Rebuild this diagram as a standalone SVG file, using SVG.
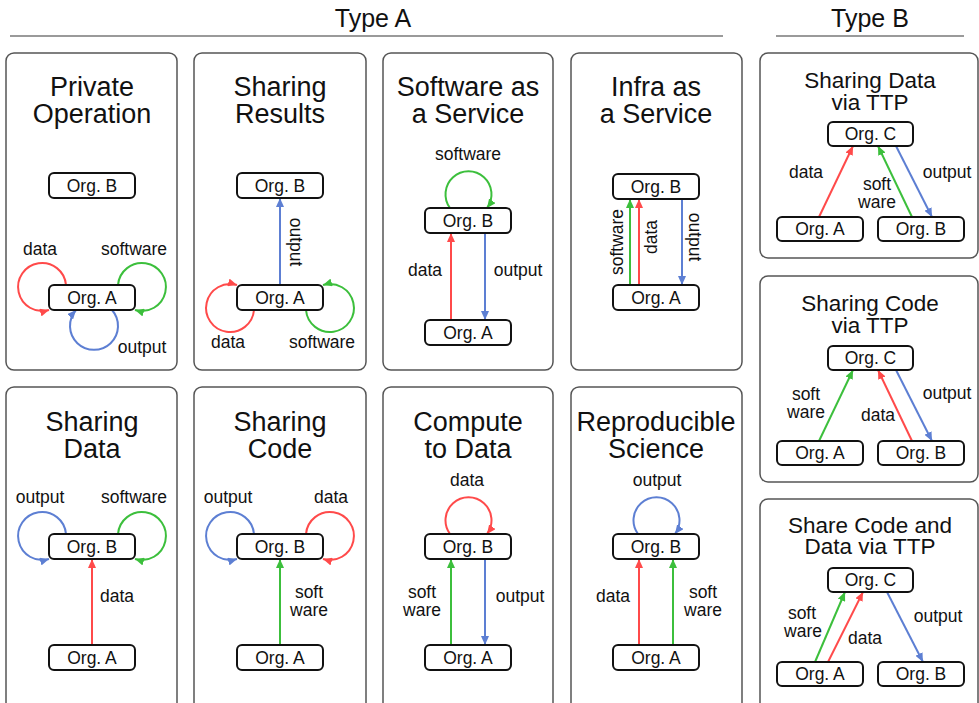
<svg xmlns="http://www.w3.org/2000/svg" width="979" height="703" viewBox="0 0 979 703">
  <style>
    text { font-family: "Liberation Sans", Arial, sans-serif; fill: #111; }
    .hdr { font-size: 25px; text-anchor: middle; }
    .rule { stroke: #9a9a9a; stroke-width: 2; }
    .panel { fill: #fff; stroke: #555; stroke-width: 1.5; }
    .ttl { font-size: 27px; text-anchor: middle; }
    .ttlb { font-size: 22.5px; text-anchor: middle; }
    .node rect { fill: #fff; stroke: #111; stroke-width: 2; }
    .node text { font-size: 17.5px; text-anchor: middle; }
    .lbl { font-size: 17.5px; text-anchor: middle; }
    .c { fill: none; stroke-width: 2; }
    .red { stroke: #ff4a4a; marker-end: url(#ah-red); }
    .grn { stroke: #3cbf3c; marker-end: url(#ah-grn); }
    .blu { stroke: #5d7fd3; marker-end: url(#ah-blu); }
  </style>
  <defs>
    <marker id="ah-red" viewBox="0 0 9 8" refX="9" refY="4" markerWidth="9" markerHeight="8" markerUnits="userSpaceOnUse" orient="auto">
      <path d="M0,0 L9,4 L0,8 z" fill="#ff4a4a"/>
    </marker>
    <marker id="ah-grn" viewBox="0 0 9 8" refX="9" refY="4" markerWidth="9" markerHeight="8" markerUnits="userSpaceOnUse" orient="auto">
      <path d="M0,0 L9,4 L0,8 z" fill="#3cbf3c"/>
    </marker>
    <marker id="ah-blu" viewBox="0 0 9 8" refX="9" refY="4" markerWidth="9" markerHeight="8" markerUnits="userSpaceOnUse" orient="auto">
      <path d="M0,0 L9,4 L0,8 z" fill="#5d7fd3"/>
    </marker>
  </defs>

  <!-- section headers -->
  <g id="headers">
    <text class="hdr" x="373" y="27">Type A</text>
    <line class="rule" x1="10" y1="36" x2="723" y2="36"/>
    <text class="hdr" x="870" y="27">Type B</text>
    <line class="rule" x1="776" y1="36" x2="964" y2="36"/>
  </g>

  <!-- scenario panels with titles -->
  <g id="panels">
    <rect class="panel" x="6" y="53" width="171" height="317" rx="8"/>
    <rect class="panel" x="194" y="53" width="172" height="317" rx="8"/>
    <rect class="panel" x="383" y="53" width="170" height="317" rx="8"/>
    <rect class="panel" x="571" y="53" width="171" height="317" rx="8"/>
    <rect class="panel" x="6" y="387" width="171" height="330" rx="8"/>
    <rect class="panel" x="194" y="387" width="172" height="330" rx="8"/>
    <rect class="panel" x="383" y="387" width="170" height="330" rx="8"/>
    <rect class="panel" x="571" y="387" width="171" height="330" rx="8"/>
    <rect class="panel" x="760" y="53" width="218" height="205" rx="8"/>
    <rect class="panel" x="760" y="276" width="218" height="206" rx="8"/>
    <rect class="panel" x="760" y="499" width="218" height="220" rx="8"/>

    <text class="ttl" x="92" y="96">Private</text>
    <text class="ttl" x="92" y="123">Operation</text>
    <text class="ttl" x="280" y="96">Sharing</text>
    <text class="ttl" x="280" y="123">Results</text>
    <text class="ttl" x="468" y="96">Software as</text>
    <text class="ttl" x="468" y="123">a Service</text>
    <text class="ttl" x="656" y="96">Infra as</text>
    <text class="ttl" x="656" y="123">a Service</text>
    <text class="ttl" x="92" y="431">Sharing</text>
    <text class="ttl" x="92" y="458">Data</text>
    <text class="ttl" x="280" y="431">Sharing</text>
    <text class="ttl" x="280" y="458">Code</text>
    <text class="ttl" x="468" y="431">Compute</text>
    <text class="ttl" x="468" y="458">to Data</text>
    <text class="ttl" x="656" y="431">Reproducible</text>
    <text class="ttl" x="656" y="458">Science</text>
    <text class="ttlb" x="870" y="88">Sharing Data</text>
    <text class="ttlb" x="870" y="110">via TTP</text>
    <text class="ttlb" x="870" y="311">Sharing Code</text>
    <text class="ttlb" x="870" y="333">via TTP</text>
    <text class="ttlb" x="870" y="533">Share Code and</text>
    <text class="ttlb" x="870" y="554">Data via TTP</text>
  </g>

  <!-- connectors: straight transfers and self-loops -->
  <g id="connectors">
    <!-- Private Operation -->
    <path class="c red" d="M66,285 A24,24 0 1 0 49,310"/>
    <path class="c grn" d="M118,285 A24,24 0 1 1 135,310"/>
    <path class="c blu" d="M112,310 A24,24 0 1 1 76,310"/>
    <!-- Sharing Results -->
    <path class="c blu" d="M280,285 L280,198"/>
    <path class="c red" d="M254,310 A24,24 0 1 1 237,285"/>
    <path class="c grn" d="M306,310 A24,24 0 1 0 323,285"/>
    <!-- Software as a Service -->
    <path class="c grn" d="M450,208 A23,23 0 1 1 487,208"/>
    <path class="c red" d="M451,320 L451,233"/>
    <path class="c blu" d="M485,233 L485,320"/>
    <!-- Infra as a Service -->
    <path class="c grn" d="M630,285 L630,199"/>
    <path class="c red" d="M639,285 L639,199"/>
    <path class="c blu" d="M682,199 L682,285"/>
    <!-- Sharing Data -->
    <path class="c blu" d="M66,534 A24,24 0 1 0 49,559"/>
    <path class="c grn" d="M118,534 A24,24 0 1 1 135,559"/>
    <path class="c red" d="M92,645 L92,559"/>
    <!-- Sharing Code -->
    <path class="c blu" d="M254,534 A24,24 0 1 0 237,559"/>
    <path class="c red" d="M306,534 A24,24 0 1 1 323,559"/>
    <path class="c grn" d="M280,645 L280,559"/>
    <!-- Compute to Data -->
    <path class="c red" d="M450,534 A23,23 0 1 1 487,534"/>
    <path class="c grn" d="M451,645 L451,559"/>
    <path class="c blu" d="M485,559 L485,645"/>
    <!-- Reproducible Science -->
    <path class="c blu" d="M638,534 A23,23 0 1 1 675,534"/>
    <path class="c red" d="M639,645 L639,559"/>
    <path class="c grn" d="M673,645 L673,559"/>
    <!-- Sharing Data via TTP -->
    <path class="c red" d="M819,217 L853,146"/>
    <path class="c grn" d="M912,217 L878,146"/>
    <path class="c blu" d="M896,146 L932,217"/>
    <!-- Sharing Code via TTP -->
    <path class="c grn" d="M819,441 L853,370"/>
    <path class="c red" d="M912,441 L878,370"/>
    <path class="c blu" d="M896,370 L932,441"/>
    <!-- Share Code and Data via TTP -->
    <path class="c grn" d="M815,662 L845,592"/>
    <path class="c red" d="M828,662 L863,592"/>
    <path class="c blu" d="M887,592 L923,662"/>
  </g>

  <!-- organisation nodes -->
  <g id="p1-orgB" class="node"><rect x="49" y="173" width="86" height="25" rx="5"/><text x="92" y="192">Org. B</text></g>
  <g id="p1-orgA" class="node"><rect x="49" y="285" width="86" height="25" rx="5"/><text x="92" y="304">Org. A</text></g>
  <g id="p2-orgB" class="node"><rect x="237" y="173" width="86" height="25" rx="5"/><text x="280" y="192">Org. B</text></g>
  <g id="p2-orgA" class="node"><rect x="237" y="285" width="86" height="25" rx="5"/><text x="280" y="304">Org. A</text></g>
  <g id="p3-orgB" class="node"><rect x="425" y="208" width="86" height="25" rx="5"/><text x="468" y="227">Org. B</text></g>
  <g id="p3-orgA" class="node"><rect x="425" y="320" width="86" height="25" rx="5"/><text x="468" y="339">Org. A</text></g>
  <g id="p4-orgB" class="node"><rect x="613" y="174" width="86" height="25" rx="5"/><text x="656" y="193">Org. B</text></g>
  <g id="p4-orgA" class="node"><rect x="613" y="285" width="86" height="25" rx="5"/><text x="656" y="304">Org. A</text></g>
  <g id="p5-orgB" class="node"><rect x="49" y="534" width="86" height="25" rx="5"/><text x="92" y="553">Org. B</text></g>
  <g id="p5-orgA" class="node"><rect x="49" y="645" width="86" height="25" rx="5"/><text x="92" y="664">Org. A</text></g>
  <g id="p6-orgB" class="node"><rect x="237" y="534" width="86" height="25" rx="5"/><text x="280" y="553">Org. B</text></g>
  <g id="p6-orgA" class="node"><rect x="237" y="645" width="86" height="25" rx="5"/><text x="280" y="664">Org. A</text></g>
  <g id="p7-orgB" class="node"><rect x="425" y="534" width="86" height="25" rx="5"/><text x="468" y="553">Org. B</text></g>
  <g id="p7-orgA" class="node"><rect x="425" y="645" width="86" height="25" rx="5"/><text x="468" y="664">Org. A</text></g>
  <g id="p8-orgB" class="node"><rect x="613" y="534" width="86" height="25" rx="5"/><text x="656" y="553">Org. B</text></g>
  <g id="p8-orgA" class="node"><rect x="613" y="645" width="86" height="25" rx="5"/><text x="656" y="664">Org. A</text></g>
  <g id="b1-orgC" class="node"><rect x="828" y="122" width="85" height="24" rx="5"/><text x="870.5" y="140">Org. C</text></g>
  <g id="b1-orgA" class="node"><rect x="777" y="217" width="86" height="24" rx="5"/><text x="820" y="235">Org. A</text></g>
  <g id="b1-orgB" class="node"><rect x="878" y="217" width="86" height="24" rx="5"/><text x="921" y="235">Org. B</text></g>
  <g id="b2-orgC" class="node"><rect x="828" y="346" width="85" height="24" rx="5"/><text x="870.5" y="364">Org. C</text></g>
  <g id="b2-orgA" class="node"><rect x="777" y="441" width="86" height="24" rx="5"/><text x="820" y="459">Org. A</text></g>
  <g id="b2-orgB" class="node"><rect x="878" y="441" width="86" height="24" rx="5"/><text x="921" y="459">Org. B</text></g>
  <g id="b3-orgC" class="node"><rect x="828" y="568" width="85" height="24" rx="5"/><text x="870.5" y="586">Org. C</text></g>
  <g id="b3-orgA" class="node"><rect x="777" y="662" width="86" height="24" rx="5"/><text x="820" y="680">Org. A</text></g>
  <g id="b3-orgB" class="node"><rect x="878" y="662" width="86" height="24" rx="5"/><text x="921" y="680">Org. B</text></g>

  <!-- connector labels -->
  <g id="labels">
    <text class="lbl" x="40" y="255">data</text>
    <text class="lbl" x="134" y="255">software</text>
    <text class="lbl" x="142" y="353">output</text>

    <text class="lbl" transform="translate(296,242) rotate(90)" dy="6">output</text>
    <text class="lbl" x="228" y="348">data</text>
    <text class="lbl" x="322" y="348">software</text>

    <text class="lbl" x="468" y="160">software</text>
    <text class="lbl" x="425" y="276">data</text>
    <text class="lbl" x="518" y="276">output</text>

    <text class="lbl" transform="translate(617,242) rotate(-90)" dy="6">software</text>
    <text class="lbl" transform="translate(651,237) rotate(-90)" dy="6">data</text>
    <text class="lbl" transform="translate(695,237) rotate(90)" dy="6">output</text>

    <text class="lbl" x="40" y="503">output</text>
    <text class="lbl" x="134" y="503">software</text>
    <text class="lbl" x="117" y="602">data</text>

    <text class="lbl" x="228" y="503">output</text>
    <text class="lbl" x="331" y="503">data</text>
    <text class="lbl" x="309" y="598">soft</text>
    <text class="lbl" x="309" y="616">ware</text>

    <text class="lbl" x="467" y="486">data</text>
    <text class="lbl" x="422" y="598">soft</text>
    <text class="lbl" x="422" y="616">ware</text>
    <text class="lbl" x="520" y="602">output</text>

    <text class="lbl" x="657" y="486">output</text>
    <text class="lbl" x="613" y="602">data</text>
    <text class="lbl" x="703" y="598">soft</text>
    <text class="lbl" x="703" y="616">ware</text>

    <text class="lbl" x="806" y="178">data</text>
    <text class="lbl" x="877" y="190">soft</text>
    <text class="lbl" x="877" y="208">ware</text>
    <text class="lbl" x="947" y="178">output</text>

    <text class="lbl" x="806" y="400">soft</text>
    <text class="lbl" x="806" y="418">ware</text>
    <text class="lbl" x="878" y="421">data</text>
    <text class="lbl" x="947" y="399">output</text>

    <text class="lbl" x="802" y="619">soft</text>
    <text class="lbl" x="803" y="637">ware</text>
    <text class="lbl" x="865" y="644">data</text>
    <text class="lbl" x="938" y="622">output</text>
  </g>
</svg>
